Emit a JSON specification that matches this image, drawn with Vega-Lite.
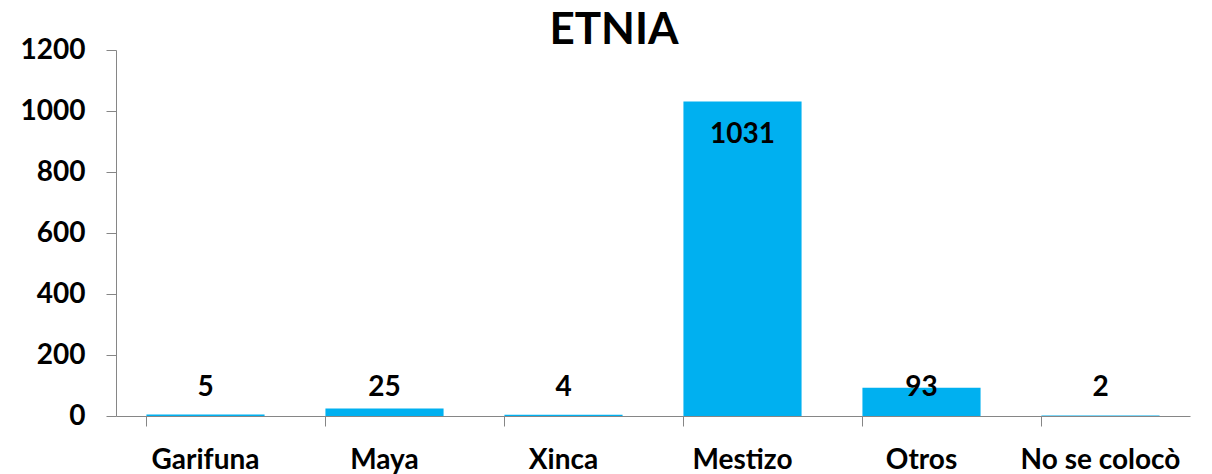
{
  "$schema": "https://vega.github.io/schema/vega-lite/v6.json",
  "autosize": "none",
  "width": 1074,
  "height": 366,
  "padding": {"left": 116, "top": 50, "right": 22, "bottom": 58},
  "background": "white",
  "title": {"text": "ETNIA", "font": "Lato", "fontSize": 44, "fontWeight": "bold", "color": "#000000", "anchor": "middle", "dx": -39, "offset": -17, "baseline": "top"},
  "data": {"values": [
    {"etnia": "Garifuna", "value": 5},
    {"etnia": "Maya", "value": 25},
    {"etnia": "Xinca", "value": 4},
    {"etnia": "Mestizo", "value": 1031},
    {"etnia": "Otros", "value": 93},
    {"etnia": "No se colocò", "value": 2}
  ]},
  "config": {"view": {"stroke": null}},
  "encoding": {
    "x": {"field": "etnia", "type": "nominal", "sort": null,
      "scale": {"paddingInner": 0.34, "paddingOuter": 0.17},
      "axis": {"title": null, "labelAngle": 0, "labelFont": "Lato", "labelFontSize": 28, "labelFontWeight": "bold", "labelColor": "#000000", "labelPadding": 20, "domainColor": "#868686", "tickColor": "#868686", "tickSize": 10, "bandPosition": 0, "labelBaseline": "top", "labelBound": false, "labelOverlap": false}}
  },
  "layer": [
    {"mark": {"type": "bar", "color": "#00B0F0"},
      "encoding": {"y": {"field": "value", "type": "quantitative",
        "scale": {"domain": [0, 1200], "nice": false},
        "axis": {"title": null, "format": "d", "values": [0, 200, 400, 600, 800, 1000, 1200], "grid": false, "labelFont": "Lato", "labelFontSize": 28, "labelFontWeight": "bold", "labelColor": "#000000", "labelPadding": 21, "domainColor": "#868686", "tickColor": "#868686", "tickSize": 10}}}},
    {"transform": [{"filter": "datum.etnia !== 'Mestizo'"}],
      "mark": {"type": "text", "font": "Lato", "fontSize": 28, "fontWeight": "bold", "color": "#000000", "baseline": "alphabetic", "dy": -20},
      "encoding": {"y": {"datum": 0, "type": "quantitative"}, "text": {"field": "value", "type": "quantitative"}}},
    {"transform": [{"filter": "datum.etnia === 'Mestizo'"}],
      "mark": {"type": "text", "font": "Lato", "fontSize": 28, "fontWeight": "bold", "color": "#000000", "baseline": "alphabetic", "dy": 41},
      "encoding": {"y": {"field": "value", "type": "quantitative"}, "text": {"field": "value", "type": "quantitative"}}}
  ]
}
